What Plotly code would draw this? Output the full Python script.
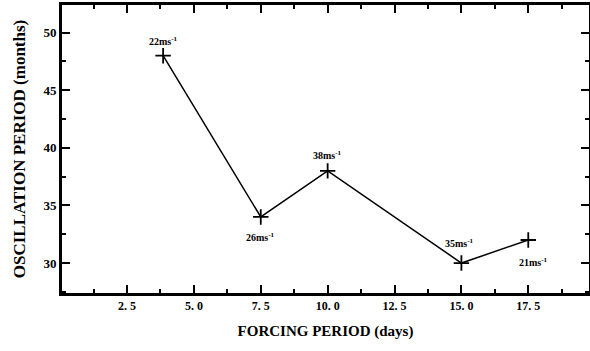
import plotly.graph_objects as go

forcing_period = [3.85, 7.5, 10.0, 15.0, 17.5]
oscillation_period = [48, 34, 38, 30, 32]
speed_labels = ["22ms<sup>-1</sup>", "26ms<sup>-1</sup>", "38ms<sup>-1</sup>", "35ms<sup>-1</sup>", "21ms<sup>-1</sup>"]
label_shift = [(0, 15), (0, -20), (0, 16), (-2, 20), (5, -22)]
x_ticks = [2.5, 5.0, 7.5, 10.0, 12.5, 15.0, 17.5]
x_ticktext = ["2. 5", "5. 0", "7. 5", "10. 0", "12. 5", "15. 0", "17. 5"]
y_ticks = [30, 35, 40, 45, 50]

FONT = "Liberation Serif"

fig = go.Figure()
fig.add_trace(go.Scatter(
    x=forcing_period, y=oscillation_period, mode="lines+markers",
    line=dict(color="black", width=1.5),
    marker=dict(symbol="cross-thin", size=11, line=dict(color="black", width=1.8)),
    showlegend=False,
))

for x, y, t, (dx, dy) in zip(forcing_period, oscillation_period, speed_labels, label_shift):
    fig.add_annotation(x=x, y=y, text="<b>" + t + "</b>", showarrow=False,
                       xshift=dx, yshift=dy,
                       font=dict(family=FONT, size=10, color="black"))

fig.update_layout(
    width=590, height=351,
    margin=dict(l=62, r=1, t=5, b=58, autoexpand=False),
    paper_bgcolor="white", plot_bgcolor="white",
    font=dict(family=FONT, color="black"),
    xaxis=dict(
        range=[0.07, 19.77], tickvals=x_ticks, ticktext=["<b>%s</b>" % t for t in x_ticktext],
        ticks="inside", ticklen=8, tickwidth=2, tickcolor="black",
        minor=dict(dtick=1.25, tick0=0, ticks="inside", ticklen=4, tickwidth=1.5, tickcolor="black"),
        showline=True, linecolor="black", linewidth=3, mirror="allticks",
        showgrid=False, zeroline=False, automargin=False,
        tickfont=dict(family=FONT, size=12, color="black"),
        title=dict(text="<b>FORCING PERIOD (days)</b>", font=dict(family=FONT, size=15, color="black"), standoff=14),
    ),
    yaxis=dict(
        range=[27.4, 52.4], tickvals=y_ticks, ticktext=["<b>%d</b>" % v for v in y_ticks],
        ticks="inside", ticklen=8, tickwidth=2, tickcolor="black",
        minor=dict(dtick=2.5, tick0=0, ticks="inside", ticklen=4, tickwidth=1.5, tickcolor="black"),
        showline=True, linecolor="black", linewidth=3, mirror="allticks",
        showgrid=False, zeroline=False, automargin=False,
        tickfont=dict(family=FONT, size=13, color="black"),
        title=dict(text="<b>OSCILLATION PERIOD (months)</b>", font=dict(family=FONT, size=17, color="black"), standoff=14),
    ),
)

fig.write_html("out.html", config={"displayModeBar": False},
               post_script="document.body.style.margin='0';")
